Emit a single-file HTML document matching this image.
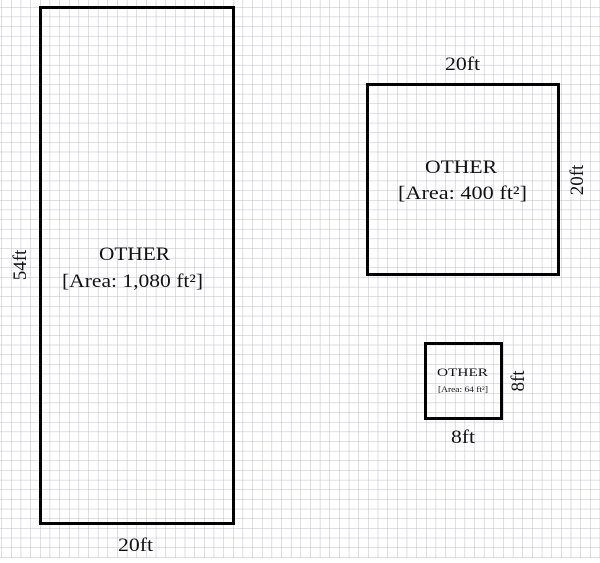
<!DOCTYPE html>
<html><head><style>
body{margin:0;width:600px;height:558px;overflow:hidden;background:#fff}
svg text{font-family:"Liberation Serif",serif;fill:#111}
</style></head><body>
<svg width="600" height="558" xmlns="http://www.w3.org/2000/svg">
<defs>
<pattern id="g" x="40" y="7" width="9.65" height="9.65" patternUnits="userSpaceOnUse">
<path d="M0 0H9.65M0 0V9.65" stroke="#bdbdca" stroke-width="1" fill="none"/>
</pattern>
</defs>
<rect width="600" height="558" fill="url(#g)"/>
<rect x="40.5" y="7.5" width="193" height="516" fill="none" stroke="#000" stroke-width="3"/>
<rect x="367.5" y="84.5" width="191" height="190" fill="none" stroke="#000" stroke-width="3"/>
<rect x="425.5" y="343.5" width="76" height="75" fill="none" stroke="#000" stroke-width="3"/>
<text x="99" y="260" font-size="19" textLength="71" lengthAdjust="spacingAndGlyphs">OTHER</text>
<text x="62" y="287" font-size="19" textLength="141" lengthAdjust="spacingAndGlyphs">[Area: 1,080 ft²]</text>
<text x="118" y="551" font-size="19" textLength="35" lengthAdjust="spacingAndGlyphs">20ft</text>
<text transform="translate(26,265) rotate(-90)" font-size="19" text-anchor="middle">54ft</text>
<text x="445" y="70" font-size="19" textLength="35" lengthAdjust="spacingAndGlyphs">20ft</text>
<text x="425" y="173" font-size="19" textLength="72" lengthAdjust="spacingAndGlyphs">OTHER</text>
<text x="398" y="199" font-size="19" textLength="129" lengthAdjust="spacingAndGlyphs">[Area: 400 ft²]</text>
<text transform="translate(583,180) rotate(-90)" font-size="19" text-anchor="middle">20ft</text>
<text x="437" y="376" font-size="12" textLength="51" lengthAdjust="spacingAndGlyphs">OTHER</text>
<text x="438" y="392" font-size="8" textLength="50" lengthAdjust="spacingAndGlyphs">[Area: 64 ft²]</text>
<text x="451" y="443" font-size="19" textLength="24" lengthAdjust="spacingAndGlyphs">8ft</text>
<text transform="translate(524,381) rotate(-90)" font-size="19" text-anchor="middle">8ft</text>
</svg>
</body></html>
